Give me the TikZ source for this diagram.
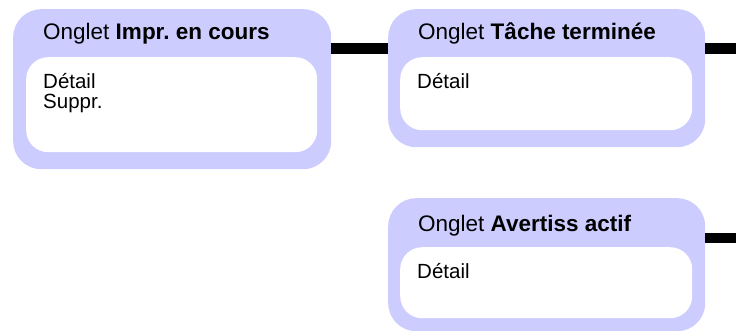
\documentclass[tikz,border=0pt]{standalone}
\usepackage{fontspec}
\setmainfont{Liberation Sans}
\definecolor{lav}{HTML}{CCCCFF}
\frenchspacing
\begin{document}
\begin{tikzpicture}[x=1pt,y=-1pt,
  outerbox/.style={fill=lav, draw=none, rounded corners=28pt, inner sep=0pt, anchor=north west},
  innerbox/.style={fill=white, draw=none, rounded corners=22pt, inner sep=0pt, anchor=north west},
  titletext/.style={anchor=base west, inner sep=0pt, font=\fontsize{22.5}{27}\selectfont},
  bodytext/.style={anchor=base west, inner sep=0pt, font=\fontsize{20.5}{24}\selectfont},
  conn/.style={draw=black, line width=10.5pt}]
\useasboundingbox (0,0) rectangle (736,331);
% connector levels
\coordinate (c1) at (0,48.5);
\coordinate (c3) at (0,238);
\coordinate (e1) at (736,48.5);
\coordinate (e3) at (736,238);
% boxes
\node[outerbox, minimum width=318pt, minimum height=160pt] (b1) at (13,9) {};
\node[innerbox, minimum width=291pt, minimum height=95pt] (i1) at (26,57) {};
\node[outerbox, minimum width=317pt, minimum height=138pt] (b2) at (388,9) {};
\node[innerbox, minimum width=292pt, minimum height=73pt] (i2) at (400,57) {};
\node[outerbox, minimum width=317pt, minimum height=133pt] (b3) at (388,198) {};
\node[innerbox, minimum width=292pt, minimum height=71pt] (i3) at (400,247) {};
% connectors
\draw[conn] (b1.east |- c1) -- (b2.west |- c1);
\draw[conn] (b2.east |- c1) -- (e1);
\draw[conn] (b3.east |- c3) -- (e3);
% texts
\node[titletext] (t1) at (43,40) {Onglet \textbf{Impr. en cours}};
\node[bodytext] (d1) at (43,89) {Détail};
\node[bodytext] (s1) at (43,109) {Suppr.};
\node[titletext] (t2) at (418,40) {Onglet \textbf{Tâche terminée}};
\node[bodytext] (d2) at (417,89) {Détail};
\node[titletext] (t3) at (418,231) {Onglet \textbf{Avertiss actif}};
\node[bodytext] (d3) at (417,278) {Détail};
\end{tikzpicture}
\end{document}
